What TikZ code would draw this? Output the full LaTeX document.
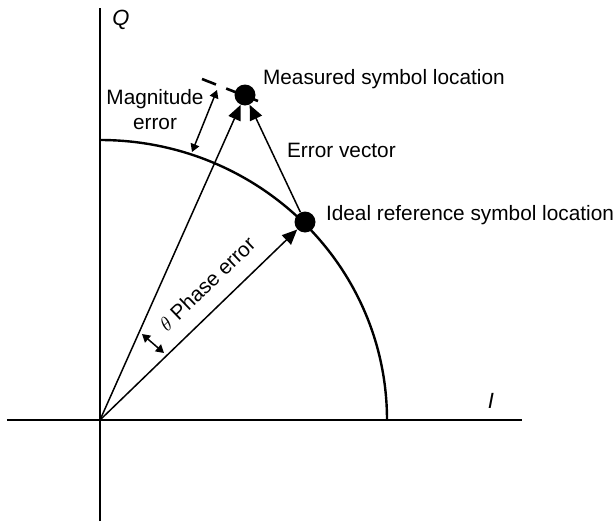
\documentclass[tikz,border=0pt]{standalone}
\usepackage{fontspec}
\setmainfont{Liberation Sans}
\usepackage{tikz}
\usetikzlibrary{arrows.meta}

\begin{document}
\begin{tikzpicture}[x=0.5pt, y=0.5pt, font=\fontsize{10.4}{12.5}\selectfont,
    vec/.style={line width=0.75pt, -{Triangle[length=7.5pt,width=6.5pt]}},
    span/.style={line width=0.75pt, {Triangle[length=4pt,width=4.5pt]}-{Triangle[length=4pt,width=4.5pt]}},
    symdot/.style={circle, fill=black, inner sep=0pt, minimum size=10.5pt}]
  \useasboundingbox (-100,-101) rectangle (516,420);
  % axes
  \draw[line width=1pt] (-93,0) -- (422,0);
  \draw[line width=1pt] (0,-101) -- (0,412);
  \node (qlab) at (21,400) {\fontsize{11}{13}\selectfont\textit{Q}};
  \node (ilab) at (391,19) {\fontsize{11}{13}\selectfont\textit{I}};
  % circle of ideal magnitude
  \draw[line width=1.2pt] (0,280) arc[start angle=90, end angle=0, x radius=143.5pt, y radius=140pt];
  % symbol locations
  \coordinate (O) at (0,0);
  \node[symdot] (ideal) at (205,198) {};
  \node[symdot] (meas) at (145,325) {};
  % dashed tangent through measured point
  \draw[line width=1.3pt, dash pattern=on 7.5pt off 5.5pt] (102,341) -- (158,319);
  % vectors
  \draw[vec] (O) -- (ideal);
  \draw[vec] (O) -- (meas);
  \draw[vec] (ideal) -- (meas);
  % magnitude and phase errors
  \coordinate (mag1) at (92,268);
  \coordinate (mag2) at (117,330);
  \draw[span] (mag1) -- (mag2);
  \coordinate (ph1) at (42,86);
  \coordinate (ph2) at (64,67);
  \draw[span] (ph1) -- (ph2);
  % labels
  \node[anchor=west] (measlab) at (156,341) {Measured symbol location};
  \node[anchor=west] (ideallab) at (219,205) {Ideal reference symbol location};
  \node[anchor=west] (errlab) at (180,270) {Error vector};
  \node[align=center] (maglab) at (55,310) {Magnitude\\error};
  \node[rotate=44] (phlab) at (107,136) {$\theta$ Phase error};
\end{tikzpicture}
\end{document}
